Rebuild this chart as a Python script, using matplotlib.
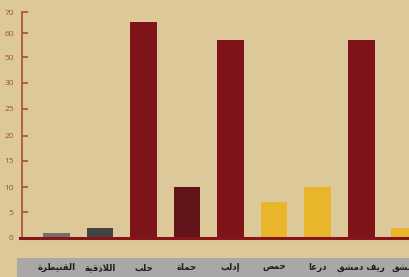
import matplotlib
matplotlib.use('Agg')
import matplotlib.pyplot as plt
import numpy as np
from matplotlib.patches import Rectangle

# governorates (logical Arabic order) and values
regions = ['القنيطرة', 'اللاذقية', 'حلب', 'حماة', 'إدلب', 'حمص', 'درعا', 'ريف دمشق', 'دمشق']
values = [1, 2, 65.5, 10, 57, 7, 10, 57, 2]
colors = ['#6f6e70', '#434343', '#7e1419', '#63131a', '#7e1419',
          '#e9b52a', '#e9b52a', '#7e1419', '#e9b52a']
y_ticks = [0, 5, 10, 15, 20, 25, 30, 50, 60, 70]

# uneven y axis of the original: where each tick sits (fraction of height)
tick_frac = [0, 0.115, 0.225, 0.342, 0.452, 0.573, 0.688, 0.801, 0.907, 1.0]

# --- minimal arabic shaping (matplotlib has no bidi / joining) ---
FORMS = {  # isolated, final, initial, medial
    'ا': (0xFE8D, 0xFE8E, None, None), 'إ': (0xFE87, 0xFE88, None, None),
    'ب': (0xFE8F, 0xFE90, 0xFE91, 0xFE92), 'ة': (0xFE93, 0xFE94, None, None),
    'ح': (0xFEA1, 0xFEA2, 0xFEA3, 0xFEA4), 'د': (0xFEA9, 0xFEAA, None, None),
    'ذ': (0xFEAB, 0xFEAC, None, None), 'ر': (0xFEAD, 0xFEAE, None, None),
    'ش': (0xFEB5, 0xFEB6, 0xFEB7, 0xFEB8), 'ص': (0xFEB9, 0xFEBA, 0xFEBB, 0xFEBC),
    'ط': (0xFEC1, 0xFEC2, 0xFEC3, 0xFEC4), 'ع': (0xFEC9, 0xFECA, 0xFECB, 0xFECC),
    'ف': (0xFED1, 0xFED2, 0xFED3, 0xFED4), 'ق': (0xFED5, 0xFED6, 0xFED7, 0xFED8),
    'ل': (0xFEDD, 0xFEDE, 0xFEDF, 0xFEE0), 'م': (0xFEE1, 0xFEE2, 0xFEE3, 0xFEE4),
    'ن': (0xFEE5, 0xFEE6, 0xFEE7, 0xFEE8), 'ي': (0xFEF1, 0xFEF2, 0xFEF3, 0xFEF4),
}
LAM_ALEF = {'ا': (0xFEFB, 0xFEFC), 'إ': (0xFEF9, 0xFEFA)}


def dual(c):
    return c in FORMS and FORMS[c][2] is not None


def shape(word):
    out = []
    i = 0
    while i < len(word):
        c = word[i]
        prev = word[i - 1] if i > 0 else ''
        joins_prev = dual(prev)
        if c == 'ل' and i + 1 < len(word) and word[i + 1] in LAM_ALEF:
            out.append(chr(LAM_ALEF[word[i + 1]][1 if joins_prev else 0]))
            i += 2
            continue
        if c not in FORMS:
            out.append(c)
            i += 1
            continue
        nxt = word[i + 1] if i + 1 < len(word) else ''
        joins_next = dual(c) and nxt in FORMS
        iso, fin, ini, med = FORMS[c]
        if joins_prev and joins_next:
            g = med
        elif joins_prev:
            g = fin
        elif joins_next:
            g = ini
        else:
            g = iso
        out.append(chr(g))
        i += 1
    return ''.join(out)[::-1]


def fwd(v):
    return np.interp(v, y_ticks, tick_frac)


def inv(p):
    return np.interp(p, tick_frac, y_ticks)


bg = '#dcc898'
red_axis = '#a4513c'

fig = plt.figure(figsize=(4.1, 2.77), dpi=100, facecolor=bg)

# grey label band under the chart
fig.patches.append(Rectangle((17 / 410, 0), 1, 19 / 277, transform=fig.transFigure,
                             facecolor='#a9a8a6', edgecolor='none', zorder=-5))

ax = fig.add_axes([22 / 410, 1 - 238 / 277, 388 / 410, (238 - 12.3) / 277])
ax.set_facecolor('none')
ax.set_zorder(2)

x = np.arange(len(regions))
ax.bar(x, values, width=0.62, color=colors, zorder=2)

ax.set_yscale('function', functions=(fwd, inv))
ax.set_ylim(0, 70)
ax.set_xlim(-0.793, 8.126)
ax.set_yticks(y_ticks)
ax.set_yticklabels([str(t) for t in y_ticks], fontsize=6, color=red_axis, family='Open Sans')
ax.minorticks_off()
ax.tick_params(axis='y', direction='in', length=4, width=1.2, color=red_axis, pad=6)

ax.set_xticks(x)
ax.set_xticklabels([shape(r) for r in regions], fontsize=6.2, fontweight='bold',
                   family='DejaVu Sans', color='#1e1e1e')
ax.tick_params(axis='x', length=0, pad=18)

for s in ['top', 'right', 'bottom']:
    ax.spines[s].set_visible(False)
ax.spines['left'].set_color(red_axis)
ax.spines['left'].set_linewidth(1.2)

ax.axhline(0, xmin=-0.004, xmax=1, color='#86161a', lw=2.2, zorder=3, clip_on=False)

fig.savefig('out.png', dpi=100, facecolor=bg)
